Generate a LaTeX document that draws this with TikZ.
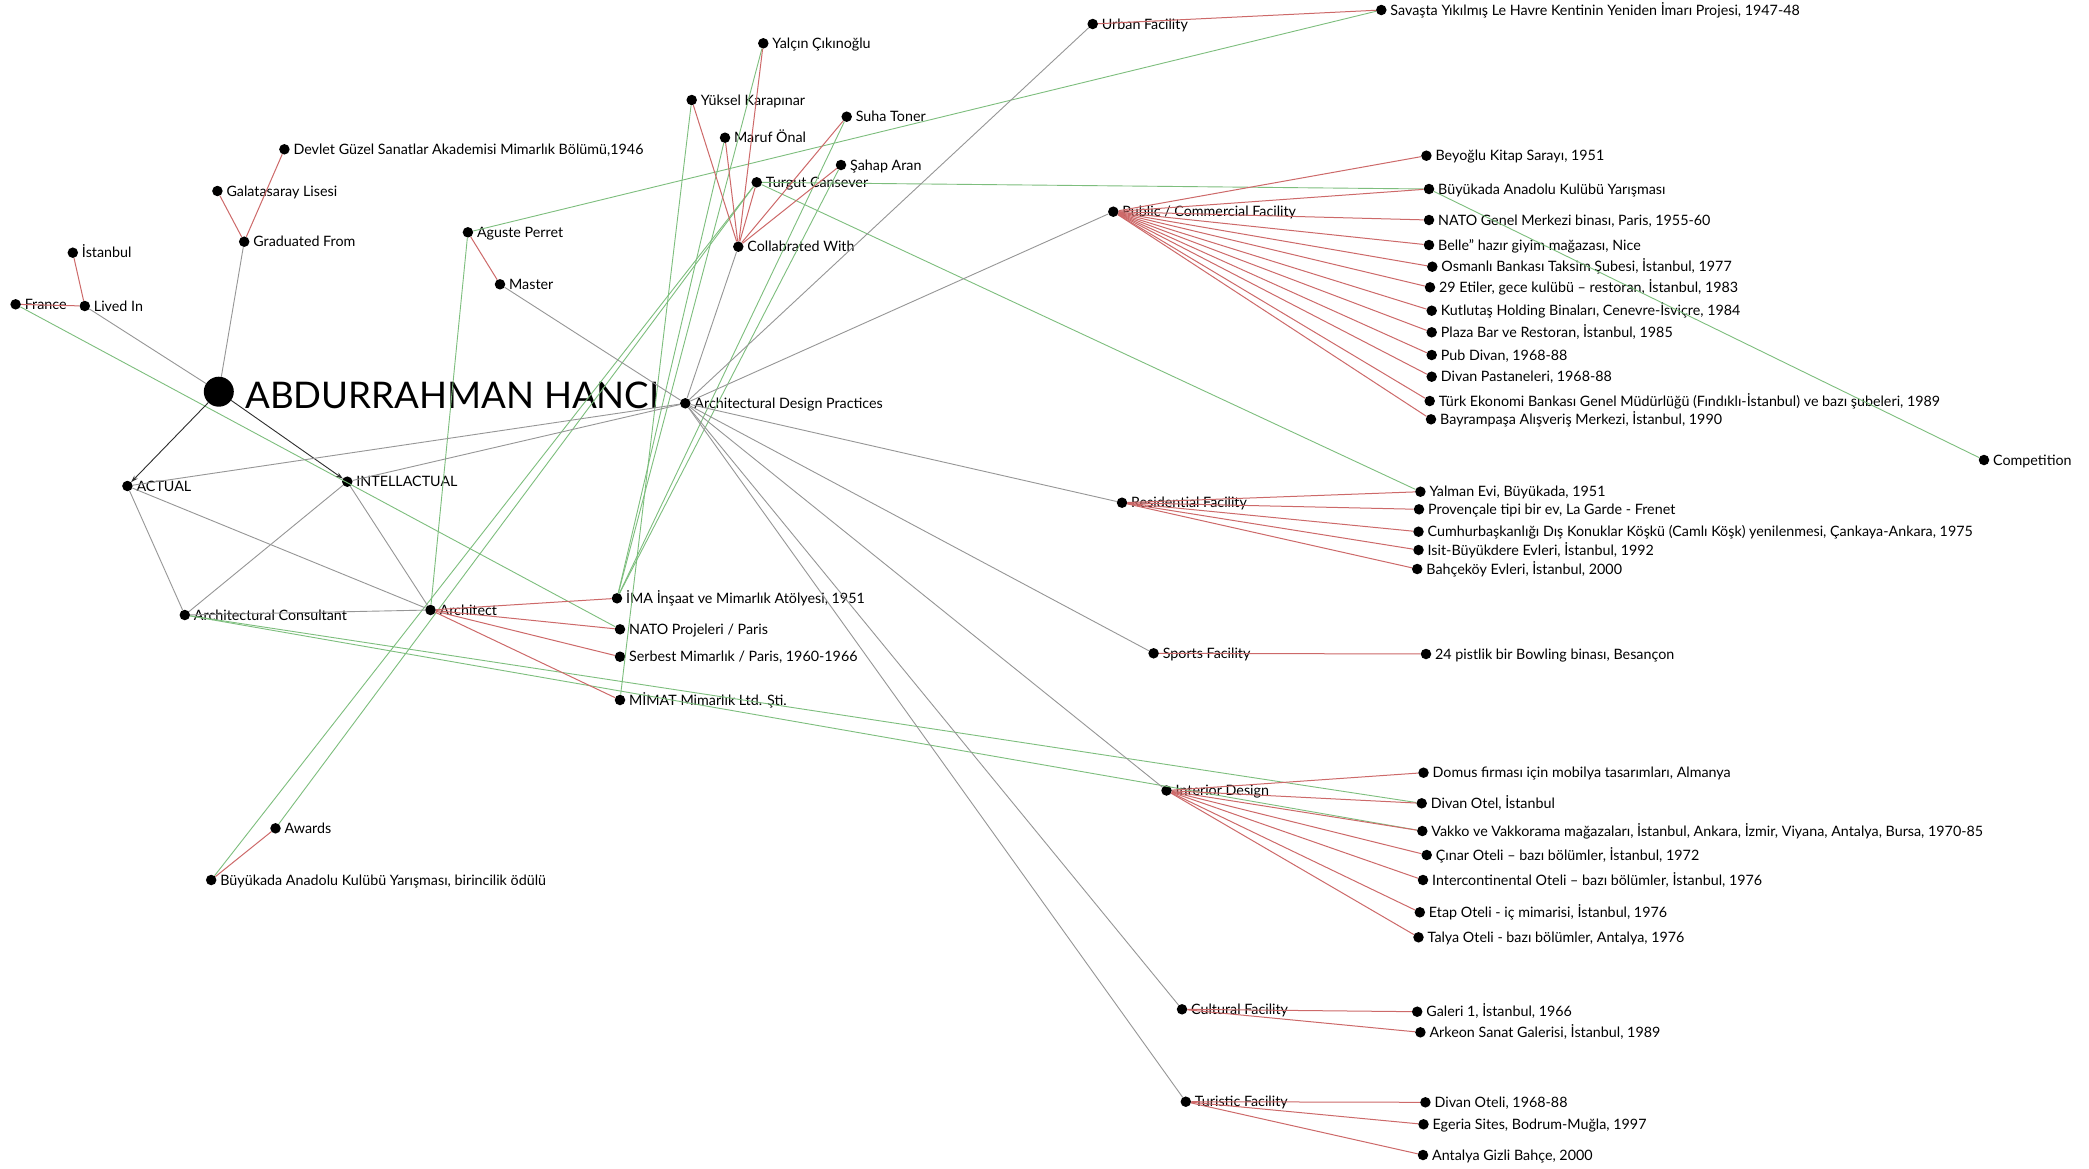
\documentclass[tikz,border=0pt]{standalone}
\usepackage{fontspec}
\setmainfont{Lato}
\usetikzlibrary{arrows.meta}
\definecolor{edgegrey}{RGB}{150,150,150}
\definecolor{edgered}{RGB}{205,105,105}
\definecolor{edgegreen}{RGB}{125,190,125}
\definecolor{edgedark}{RGB}{45,45,45}
\tikzset{
  dot/.style={circle,fill=black,inner sep=0pt,minimum size=10.5pt},
  hub/.style={circle,fill=black,inner sep=0pt,minimum size=30pt},
  lbl/.style={font=\fontsize{14.3}{14.3}\selectfont,inner sep=0pt,text height=11.5pt,text depth=1.25pt},
  ttl/.style={font=\fontsize{36.7}{36.7}\selectfont,inner sep=0pt,text height=36pt,text depth=1.7pt,anchor=west},
  ge/.style={draw=edgegrey,line width=0.9pt},
  re/.style={draw=edgered,line width=1pt},
  gr/.style={draw=edgegreen,line width=0.9pt},
  arr/.style={draw=edgedark,line width=0.9pt,-{Stealth[length=7pt,width=4.5pt]}},
  every label/.style={lbl},
  label distance=3.5pt
}
\begin{document}
\begin{tikzpicture}[x=1pt,y=-1pt]
\fill[white] (0,0) rectangle (2089,1168);
\useasboundingbox (0,0) rectangle (2089,1168);

% ---- central person and intellectual side
\node[hub] (hanci) at (218.8,391.7) {};
\node[ttl] (title) at ([xshift=11pt]hanci.east) {ABDURRAHMAN HANCI};
\node[dot,label={right:Devlet Güzel Sanatlar Akademisi Mimarlık Bölümü,1946}] (devlet) at (284.4,149.3) {};
\node[dot,label={right:Galatasaray Lisesi}] (galata) at (217.4,191) {};
\node[dot,label={right:Graduated From}] (gradfrom) at (244.2,241.7) {};
\node[dot,label={right:İstanbul}] (istanbul) at (72.8,252.7) {};
\node[dot,label={right:France}] (france) at (15.6,304.3) {};
\node[dot,label={right:Lived In}] (livedin) at (84.8,306) {};
\node[dot,label={right:Aguste Perret}] (aguste) at (467.9,232.3) {};
\node[dot,label={right:Master}] (master) at (500,284.3) {};
\node[dot,label={right:ACTUAL}] (actual) at (127.4,486) {};
\node[dot,label={right:INTELLACTUAL}] (intel) at (347.3,481.7) {};
\node[dot,label={right:Architectural Consultant}] (archcons) at (184.8,615) {};
\node[dot,label={right:Architect}] (architect) at (430.5,610) {};
\node[dot,label={right:İMA İnşaat ve Mimarlık Atölyesi, 1951}] (ima) at (617,598.3) {};
\node[dot,label={right:NATO Projeleri / Paris}] (natoproj) at (620,629.3) {};
\node[dot,label={right:Serbest Mimarlık / Paris, 1960-1966}] (serbest) at (620,656.7) {};
\node[dot,label={right:MİMAT Mimarlık Ltd. Şti.}] (mimat) at (620,700) {};
\node[dot,label={right:Awards}] (awards) at (275.5,828.3) {};
\node[dot,label={right:Büyükada Anadolu Kulübü Yarışması, birincilik ödülü}] (odul) at (211.2,880) {};

% ---- collaborators
\node[dot,label={right:Architectural Design Practices}] (archdesign) at (685.3,403.3) {};
\node[dot,label={right:Collabrated With}] (collab) at (738.3,246.7) {};
\node[dot,label={right:Yalçın Çıkınoğlu}] (yalcin) at (763.3,43.3) {};
\node[dot,label={right:Yüksel Karapınar}] (yuksel) at (691.7,100) {};
\node[dot,label={right:Maruf Önal}] (maruf) at (725,137.7) {};
\node[dot,label={right:Suha Toner}] (suha) at (846.7,116.7) {};
\node[dot,label={right:Şahap Aran}] (sahap) at (841,165) {};
\node[dot,label={right:Turgut Cansever}] (turgut) at (756.7,182.3) {};

% ---- facility types and works
\node[dot,label={right:Urban Facility}] (urban) at (1092.7,24) {};
\node[dot,label={right:Savaşta Yıkılmış Le Havre Kentinin Yeniden İmarı Projesi, 1947-48}] (savasta) at (1381.3,10) {};
\node[dot,label={right:Public / Commercial Facility}] (public) at (1113.3,211.7) {};
\node[dot,label={right:Beyoğlu Kitap Sarayı, 1951}] (beyoglu) at (1426.4,155.7) {};
\node[dot,label={right:Büyükada Anadolu Kulübü Yarışması}] (buyukyar) at (1429,189) {};
\node[dot,label={right:NATO Genel Merkezi binası, Paris, 1955-60}] (natogenel) at (1429,220) {};
\node[dot,label={right:Belle” hazır giyim mağazası, Nice}] (belle) at (1429,245) {};
\node[dot,label={right:Osmanlı Bankası Taksim Şubesi, İstanbul, 1977}] (osmanli) at (1432.3,266.7) {};
\node[dot,label={right:29 Etiler, gece kulübü – restoran, İstanbul, 1983}] (etiler) at (1430,287.3) {};
\node[dot,label={right:Kutlutaş Holding Binaları, Cenevre-İsviçre, 1984}] (kutlutas) at (1431.7,310.7) {};
\node[dot,label={right:Plaza Bar ve Restoran, İstanbul, 1985}] (plaza) at (1431.7,332.3) {};
\node[dot,label={right:Pub Divan, 1968-88}] (pub) at (1431.7,355) {};
\node[dot,label={right:Divan Pastaneleri, 1968-88}] (pastane) at (1431.7,376.7) {};
\node[dot,label={right:Türk Ekonomi Bankası Genel Müdürlüğü (Fındıklı-İstanbul) ve bazı şubeleri, 1989}] (turk) at (1429.7,401) {};
\node[dot,label={right:Bayrampaşa Alışveriş Merkezi, İstanbul, 1990}] (bayram) at (1431,419.3) {};
\node[dot,label={right:Competition}] (competition) at (1984,460) {};
\node[dot,label={right:Residential Facility}] (residential) at (1122,502.7) {};
\node[dot,label={right:Yalman Evi, Büyükada, 1951}] (yalman) at (1420.4,491.7) {};
\node[dot,label={right:Provençale tipi bir ev, La Garde - Frenet}] (provencale) at (1419,509.3) {};
\node[dot,label={right:Cumhurbaşkanlığı Dış Konuklar Köşkü (Camlı Köşk) yenilenmesi, Çankaya-Ankara, 1975}] (cumhur) at (1418.5,531.7) {};
\node[dot,label={right:Isit-Büyükdere Evleri, İstanbul, 1992}] (isit) at (1418.5,550) {};
\node[dot,label={right:Bahçeköy Evleri, İstanbul, 2000}] (bahcekoy) at (1417.2,569) {};
\node[dot,label={right:Sports Facility}] (sports) at (1153.6,653.3) {};
\node[dot,label={right:24 pistlik bir Bowling binası, Besançon}] (bowling) at (1426,654) {};
\node[dot,label={right:Interior Design}] (interior) at (1166.5,790.5) {};
\node[dot,label={right:Domus firması için mobilya tasarımları, Almanya}] (domus) at (1423.5,772.7) {};
\node[dot,label={right:Divan Otel, İstanbul}] (divanotel) at (1421.7,803.3) {};
\node[dot,label={right:Vakko ve Vakkorama mağazaları, İstanbul, Ankara, İzmir, Viyana, Antalya, Bursa, 1970-85}] (vakko) at (1422.3,831) {};
\node[dot,label={right:Çınar Oteli – bazı bölümler, İstanbul, 1972}] (cinar) at (1426.7,855) {};
\node[dot,label={right:Intercontinental Oteli – bazı bölümler, İstanbul, 1976}] (intercont) at (1423,880) {};
\node[dot,label={right:Etap Oteli - iç mimarisi, İstanbul, 1976}] (etap) at (1419.8,912.3) {};
\node[dot,label={right:Talya Oteli - bazı bölümler, Antalya, 1976}] (talya) at (1418.5,937.3) {};
\node[dot,label={right:Cultural Facility}] (cultural) at (1182,1009.3) {};
\node[dot,label={right:Galeri 1, İstanbul, 1966}] (galeri) at (1417.2,1011.7) {};
\node[dot,label={right:Arkeon Sanat Galerisi, İstanbul, 1989}] (arkeon) at (1420.4,1032.3) {};
\node[dot,label={right:Turistic Facility}] (turistic) at (1185.8,1101.7) {};
\node[dot,label={right:Divan Oteli, 1968-88}] (divanoteli) at (1425.4,1102.3) {};
\node[dot,label={right:Egeria Sites, Bodrum-Muğla, 1997}] (egeria) at (1423.5,1124.3) {};
\node[dot,label={right:Antalya Gizli Bahçe, 2000}] (antalya) at (1423,1155) {};

% ---- links between works, people and places
\draw[gr] (france) -- (natoproj);
\draw[gr] (aguste) -- (savasta);
\draw[gr] (aguste) -- (architect);
\draw[gr] (turgut) -- (buyukyar);
\draw[gr] (turgut) -- (yalman);
\draw[gr] (turgut) -- (odul);
\draw[gr] (turgut) -- (awards);
\draw[gr] (buyukyar) -- (competition);
\draw[gr] (archcons) -- (divanotel);
\draw[gr] (archcons) -- (vakko);
\foreach \p in {yalcin,maruf,suha,sahap} \draw[gr] (\p) -- (ima);
\draw[gr] (yuksel) -- (mimat);

% ---- hierarchy
\draw[arr] (hanci) -- (actual);
\draw[arr] (hanci) -- (intel);
\draw[ge] (hanci) -- (livedin);
\draw[ge] (hanci) -- (gradfrom);
\foreach \a in {actual,intel} {
  \draw[ge] (\a) -- (archcons);
  \draw[ge] (\a) -- (architect);
  \draw[ge] (\a) -- (archdesign);
}
\draw[ge] (archcons) -- (architect);
\draw[ge] (master) -- (archdesign);
\draw[ge] (collab) -- (archdesign);
\foreach \f in {urban,public,residential,sports,interior,cultural,turistic}
  \draw[ge] (archdesign) -- (\f);

% ---- categories to their items
\draw[re] (livedin) -- (istanbul);
\draw[re] (livedin) -- (france);
\draw[re] (gradfrom) -- (galata);
\draw[re] (gradfrom) -- (devlet);
\draw[re] (master) -- (aguste);
\draw[re] (awards) -- (odul);
\foreach \t in {ima,natoproj,serbest,mimat} \draw[re] (architect) -- (\t);
\foreach \t in {yalcin,yuksel,maruf,suha,sahap,turgut} \draw[re] (collab) -- (\t);
\draw[re] (urban) -- (savasta);
\foreach \t in {beyoglu,buyukyar,natogenel,belle,osmanli,etiler,kutlutas,plaza,pub,pastane,turk,bayram}
  \draw[re] (public) -- (\t);
\foreach \t in {yalman,provencale,cumhur,isit,bahcekoy} \draw[re] (residential) -- (\t);
\draw[re] (sports) -- (bowling);
\foreach \t in {domus,divanotel,vakko,cinar,intercont,etap,talya} \draw[re] (interior) -- (\t);
\foreach \t in {galeri,arkeon} \draw[re] (cultural) -- (\t);
\foreach \t in {divanoteli,egeria,antalya} \draw[re] (turistic) -- (\t);
\end{tikzpicture}
\end{document}
